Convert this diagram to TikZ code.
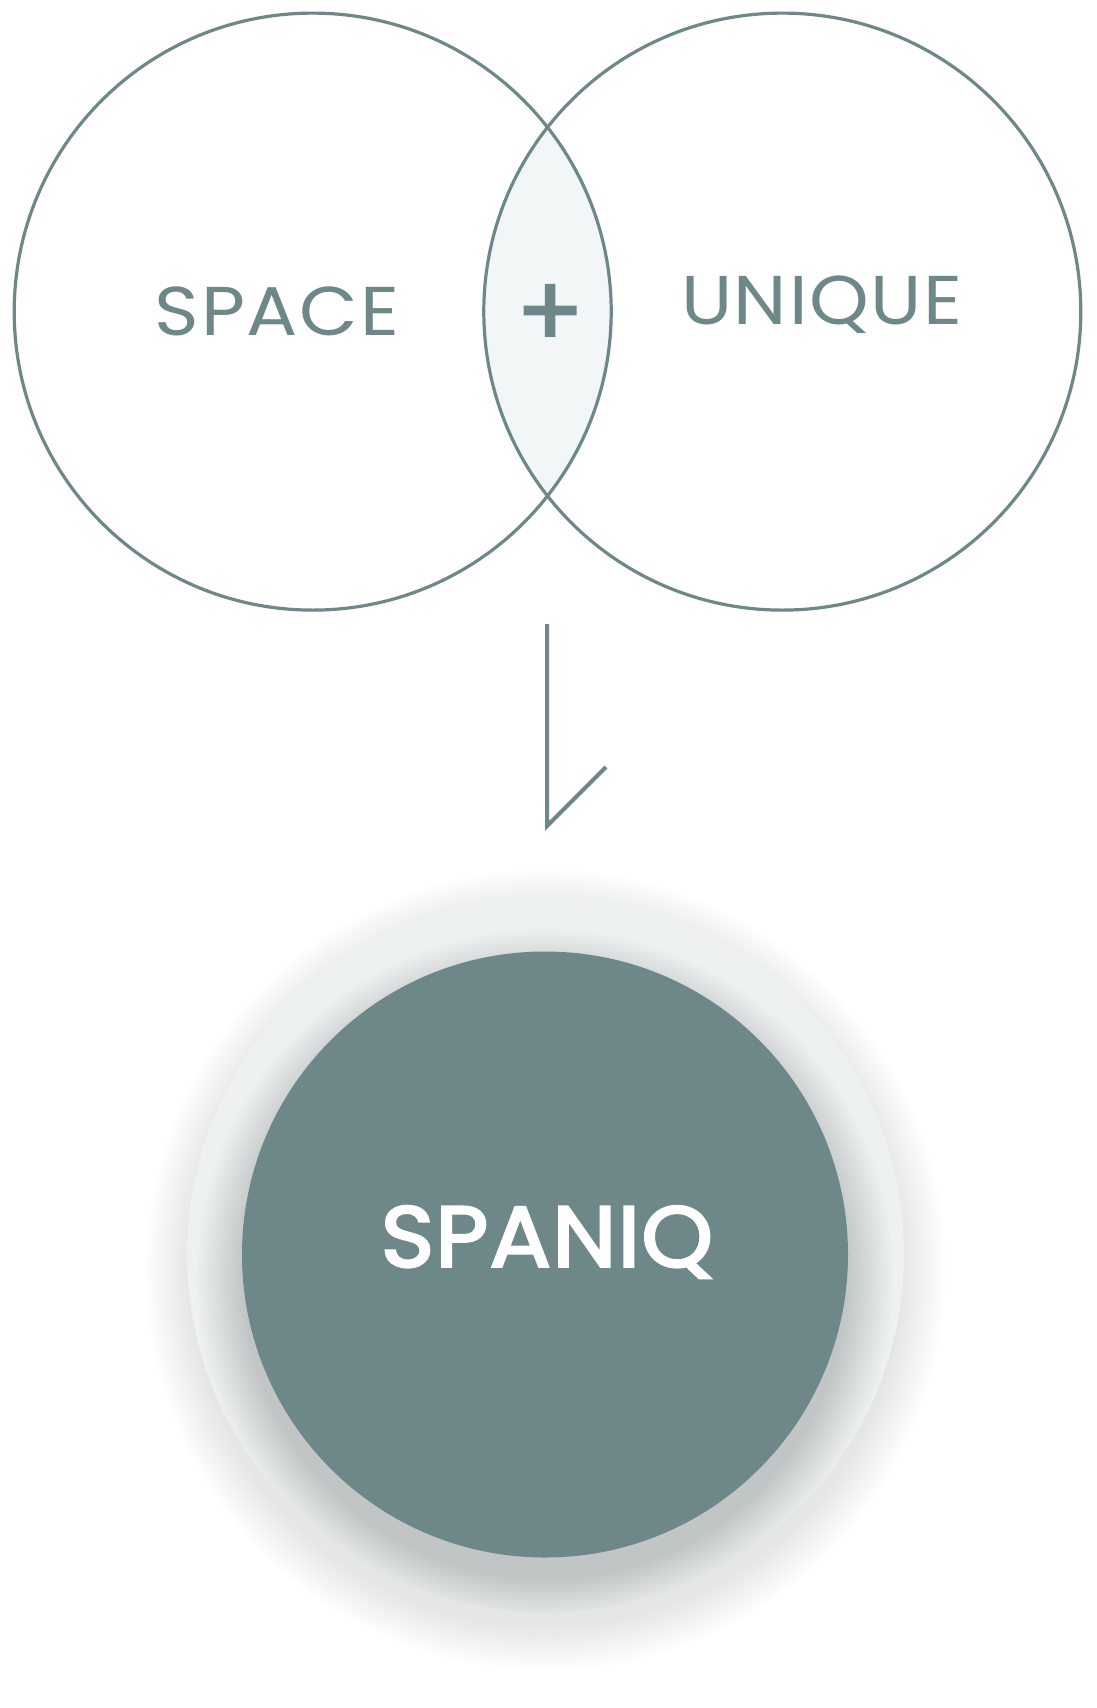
\documentclass[tikz,border=0pt]{standalone}
\usepackage{fontspec}
\setmainfont{Poppins}
\usetikzlibrary{positioning}
\definecolor{pizarra}{HTML}{6E8889}
\definecolor{lente}{HTML}{F2F6F7}
\definecolor{halo}{HTML}{EDF1F2}

\begin{document}
\begin{tikzpicture}[x=1pt,y=-1pt,
   conjunto/.style={circle,draw=pizarra,line width=3.2pt,minimum size=597pt,inner sep=0pt},
   palabra/.style={text=pizarra,font=\fontsize{69}{69}\selectfont\addfontfeatures{LetterSpace=2.5,FakeStretch=1.1}},
   signo/.style={text=pizarra,font=\fontsize{100}{100}\selectfont\addfontfeatures{FakeBold=2}},
   trazo/.style={pizarra,line width=4pt},
   marca/.style={text=white,font=\fontsize{86}{86}\selectfont\addfontfeatures{FakeBold=3,LetterSpace=1.5,FakeStretch=1.06}}]
  \useasboundingbox[fill=white] (0,0) rectangle (1096,1708);
  % --- interseccion ---
  \begin{scope}
    \clip (312.7,311.6) circle (298.5);
    \fill[lente] (782.3,311.6) circle (298.5);
  \end{scope}
  % --- conjuntos ---
  \node[conjunto] (space)  at (312.7,311.6) {};
  \node[conjunto] (unique) at (782.3,311.6) {};
  \node[palabra] (tspace)  at (277,311.5) {SPACE};
  \node[palabra] (tunique) at (822,305) {UNIQUE};
  \node[signo]   (mas)     at (550,316) {+};
  % --- flecha ---
  \coordinate (flechaIni) at (547,624);
  \coordinate (flechaFin) at (547,826);
  \coordinate (punta)     at (606,767);
  \draw[trazo] (flechaIni) -- (flechaFin) -- (punta);
  % --- resultado ---
  \foreach \i in {1,...,25}
    \fill[black,opacity=0.0022] (545.5,1270) circle (356+\i*1.8);
  \fill[halo] (545.5,1254) circle (358.5);
  \begin{scope}
    \clip (545.5,1254) circle (358.5);
    \foreach \i in {1,...,22}
      \fill[black,opacity=0.006] (545,1278) circle (300+\i*2.2);
  \end{scope}
  \node[circle,fill=pizarra,minimum size=606pt,inner sep=0pt] (spaniq) at (545,1254.5) {};
  \node[marca] (tspaniq) at (547,1242) {SPANIQ};
\end{tikzpicture}
\end{document}
